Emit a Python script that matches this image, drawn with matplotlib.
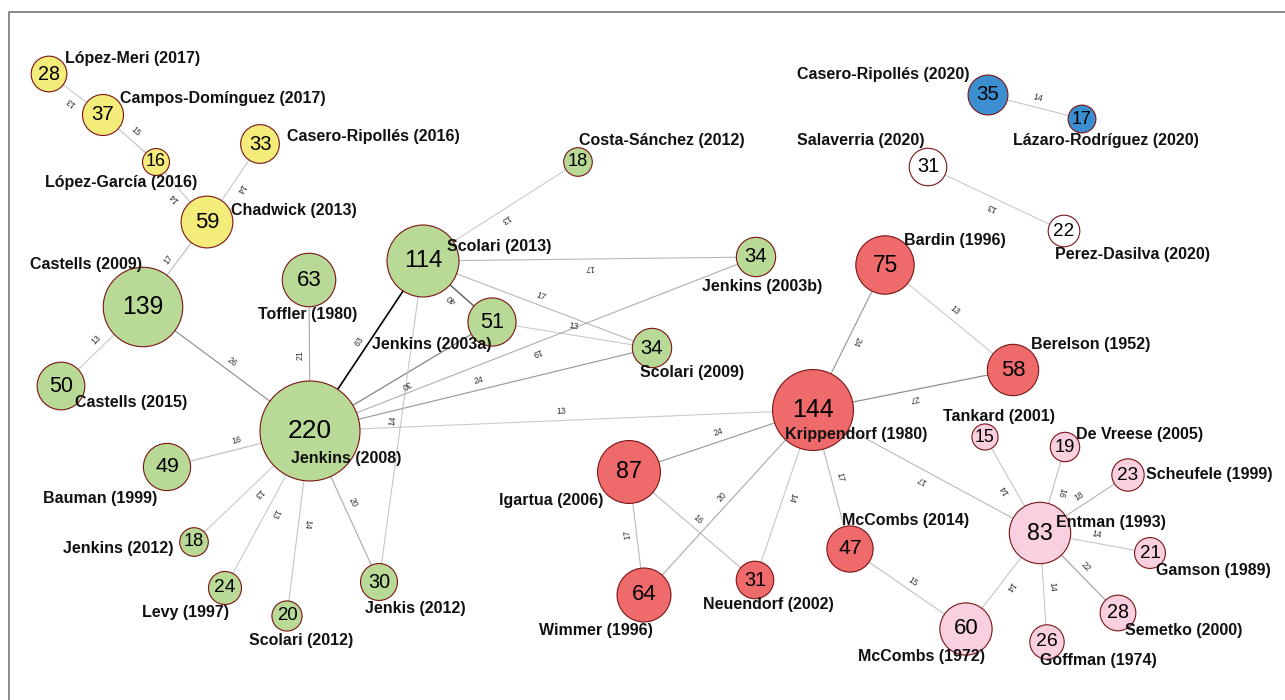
import numpy as np
import matplotlib.pyplot as plt
from matplotlib.patches import Circle

plt.rcParams['font.family'] = ['Liberation Sans', 'DejaVu Sans']

# nodos: autor citado, numero de citas, grupo
autores = ["López-Meri (2017)", "Campos-Domínguez (2017)", "López-García (2016)",
           "Casero-Ripollés (2016)", "Chadwick (2013)",
           "Castells (2009)", "Castells (2015)", "Toffler (1980)", "Scolari (2013)",
           "Jenkins (2003a)", "Costa-Sánchez (2012)", "Jenkins (2003b)", "Scolari (2009)",
           "Jenkins (2008)", "Bauman (1999)", "Jenkins (2012)", "Levy (1997)",
           "Scolari (2012)", "Jenkis (2012)",
           "Krippendorf (1980)", "Igartua (2006)", "Wimmer (1996)", "Neuendorf (2002)",
           "McCombs (2014)", "Bardin (1996)", "Berelson (1952)",
           "Casero-Ripollés (2020)", "Lázaro-Rodríguez (2020)",
           "Salaverria (2020)", "Perez-Dasilva (2020)",
           "Entman (1993)", "Tankard (2001)", "De Vreese (2005)", "Scheufele (1999)",
           "Gamson (1989)", "Semetko (2000)", "Goffman (1974)", "McCombs (1972)"]
citas = [28, 37, 16, 33, 59,
         139, 50, 63, 114, 51, 18, 34, 34, 220, 49, 18, 24, 20, 30,
         144, 87, 64, 31, 47, 75, 58,
         35, 17,
         31, 22,
         83, 15, 19, 23, 21, 28, 26, 60]
grupos = ["amarillo"] * 5 + ["verde"] * 14 + ["rojo"] * 7 + ["azul"] * 2 + \
         ["blanco"] * 2 + ["rosa"] * 8

# aristas de co-citacion: origen, destino, peso
origen = ["Campos-Domínguez (2017)", "Campos-Domínguez (2017)", "Chadwick (2013)",
          "Casero-Ripollés (2016)", "Castells (2009)", "Castells (2015)", "Castells (2009)",
          "Jenkins (2008)", "Jenkins (2008)", "Jenkins (2003a)", "Costa-Sánchez (2012)",
          "Jenkins (2003b)", "Scolari (2013)", "Jenkins (2003a)", "Jenkins (2003b)",
          "Jenkins (2008)", "Jenkins (2008)", "Jenkins (2003a)", "Jenkis (2012)",
          "Bauman (1999)", "Jenkins (2008)", "Jenkins (2008)", "Jenkins (2008)",
          "Jenkins (2008)",
          "Igartua (2006)", "Wimmer (1996)", "Krippendorf (1980)", "Krippendorf (1980)",
          "Wimmer (1996)", "Igartua (2006)", "Bardin (1996)", "Bardin (1996)",
          "Berelson (1952)", "Entman (1993)", "McCombs (2014)", "Entman (1993)",
          "Entman (1993)", "De Vreese (2005)", "Entman (1993)", "Entman (1993)",
          "Entman (1993)", "Entman (1993)",
          "Casero-Ripollés (2020)", "Perez-Dasilva (2020)"]
destino = ["López-Meri (2017)", "López-García (2016)", "López-García (2016)",
           "Chadwick (2013)", "Chadwick (2013)", "Castells (2009)", "Jenkins (2008)",
           "Toffler (1980)", "Scolari (2013)", "Scolari (2013)", "Scolari (2013)",
           "Scolari (2013)", "Scolari (2009)", "Scolari (2009)", "Jenkins (2008)",
           "Scolari (2009)", "Krippendorf (1980)", "Jenkins (2008)", "Scolari (2013)",
           "Jenkins (2008)", "Jenkins (2012)", "Levy (1997)", "Scolari (2012)",
           "Jenkis (2012)",
           "Krippendorf (1980)", "Krippendorf (1980)", "Neuendorf (2002)", "McCombs (2014)",
           "Igartua (2006)", "Neuendorf (2002)", "Krippendorf (1980)", "Berelson (1952)",
           "Krippendorf (1980)", "Krippendorf (1980)", "McCombs (1972)", "McCombs (1972)",
           "Tankard (2001)", "Entman (1993)", "Scheufele (1999)", "Gamson (1989)",
           "Semetko (2000)", "Goffman (1974)",
           "Lázaro-Rodríguez (2020)", "Salaverria (2020)"]
pesos = [13, 15, 14, 14, 17, 13, 26, 21, 63, 40, 13, 17, 17, 13, 19, 24, 13, 30, 14,
         16, 13, 13, 14, 20,
         24, 20, 14, 17, 17, 16, 24, 13, 27, 17, 15, 14, 14, 16, 18, 14, 22, 14,
         14, 13]

colores = {"amarillo": "#F3EC7A", "verde": "#B9DA96", "rojo": "#EF6A6B",
           "azul": "#3B8FD0", "blanco": "#FFFFFF", "rosa": "#F8D0E0"}

# disposicion del grafo (px) y desplazamiento de cada etiqueta
posiciones = {
    "López-Meri (2017)": (49, 74), "Campos-Domínguez (2017)": (103, 115),
    "López-García (2016)": (156, 162), "Casero-Ripollés (2016)": (260, 144),
    "Chadwick (2013)": (207, 222), "Castells (2009)": (143, 307),
    "Castells (2015)": (61, 386), "Toffler (1980)": (309, 280),
    "Scolari (2013)": (423, 261), "Jenkins (2003a)": (492, 322),
    "Costa-Sánchez (2012)": (578, 162), "Jenkins (2003b)": (756, 257),
    "Scolari (2009)": (652, 348), "Jenkins (2008)": (310, 431),
    "Bauman (1999)": (167, 467), "Jenkins (2012)": (194, 542),
    "Levy (1997)": (225, 588), "Scolari (2012)": (287, 616),
    "Jenkis (2012)": (379, 582), "Krippendorf (1980)": (813, 410),
    "Igartua (2006)": (629, 472), "Wimmer (1996)": (644, 595),
    "Neuendorf (2002)": (755, 580), "McCombs (2014)": (850, 549),
    "Bardin (1996)": (885, 265), "Berelson (1952)": (1013, 370),
    "Casero-Ripollés (2020)": (988, 95), "Lázaro-Rodríguez (2020)": (1082, 119),
    "Salaverria (2020)": (928, 167), "Perez-Dasilva (2020)": (1064, 231),
    "Entman (1993)": (1040, 533), "Tankard (2001)": (985, 437),
    "De Vreese (2005)": (1065, 447), "Scheufele (1999)": (1128, 475),
    "Gamson (1989)": (1150, 553), "Semetko (2000)": (1118, 613),
    "Goffman (1974)": (1047, 642), "McCombs (1972)": (966, 629),
}
desplaz = {
    "López-Meri (2017)": (16, -16), "Campos-Domínguez (2017)": (17, -16),
    "López-García (2016)": (-111, 20), "Casero-Ripollés (2016)": (27, -8),
    "Chadwick (2013)": (24, -11), "Castells (2009)": (-113, -43),
    "Castells (2015)": (14, 16), "Toffler (1980)": (-51, 34),
    "Scolari (2013)": (24, -15), "Jenkins (2003a)": (-120, 22),
    "Costa-Sánchez (2012)": (1, -21), "Jenkins (2003b)": (-54, 29),
    "Scolari (2009)": (-12, 24), "Jenkins (2008)": (-19, 27),
    "Bauman (1999)": (-124, 31), "Jenkins (2012)": (-131, 6),
    "Levy (1997)": (-83, 25), "Scolari (2012)": (-38, 24),
    "Jenkis (2012)": (-14, 27), "Krippendorf (1980)": (-28, 25),
    "Igartua (2006)": (-130, 28), "Wimmer (1996)": (-105, 35),
    "Neuendorf (2002)": (-52, 24), "McCombs (2014)": (-8, -28),
    "Bardin (1996)": (19, -25), "Berelson (1952)": (18, -25),
    "Casero-Ripollés (2020)": (-191, -20), "Lázaro-Rodríguez (2020)": (-69, 21),
    "Salaverria (2020)": (-131, -26), "Perez-Dasilva (2020)": (-9, 24),
    "Entman (1993)": (16, -10), "Tankard (2001)": (-42, -21),
    "De Vreese (2005)": (11, -13), "Scheufele (1999)": (18, 0),
    "Gamson (1989)": (6, 18), "Semetko (2000)": (7, 18),
    "Goffman (1974)": (-7, 19), "McCombs (1972)": (-108, 28),
}


def dibujar_aristas(ax):
    for s, t, w in zip(origen, destino, pesos):
        x0, y0 = posiciones[s]
        x1, y1 = posiciones[t]
        f = (w - 13) / 50
        gris = str(max(0.78 * (1 - f), 0))
        ax.plot([x0, x1], [y0, y1], color=gris, lw=0.75 + 0.45 * f, zorder=1)
        ang = np.degrees(np.arctan2(-(y1 - y0), x1 - x0))
        th = np.radians(ang)
        # etiqueta en el punto medio, un poco "encima" del texto girado
        mx = (x0 + x1) / 2 - 9 * np.sin(th)
        my = (y0 + y1) / 2 - 9 * np.cos(th)
        ax.text(mx, my, str(w), rotation=ang, rotation_mode='anchor',
                ha='center', va='center', fontsize=6.3, color='#333333', zorder=2)


def dibujar_nodos(ax):
    for a, c, g in zip(autores, citas, grupos):
        x, y = posiciones[a]
        ax.add_patch(Circle((x, y), 3.37 * np.sqrt(c), facecolor=colores[g],
                            edgecolor='#7a1414', lw=0.8, zorder=3))
        fs = (9 + 3.2 * np.log(c)) * 0.72
        ax.text(x, y, str(c), ha='center', va='center', fontsize=fs,
                color='black', zorder=4)
        dx, dy = desplaz[a]
        ax.text(x + dx, y + dy, a, ha='left', va='center', fontsize=11.5,
                fontweight='bold', color='#111111', zorder=5)


fig = plt.figure(figsize=(12.85, 7.0), dpi=100)
ax = fig.add_axes([0, 0, 1, 1])
ax.set_xlim(0, 1285)
ax.set_ylim(700, 0)
ax.axis('off')

# marco gris (solo izquierda y arriba)
ax.plot([9, 9, 1285], [700, 12, 12], color='#808080', lw=1.3, clip_on=False, zorder=0)

dibujar_aristas(ax)
dibujar_nodos(ax)

fig.savefig('out.png', dpi=100, facecolor='white')
